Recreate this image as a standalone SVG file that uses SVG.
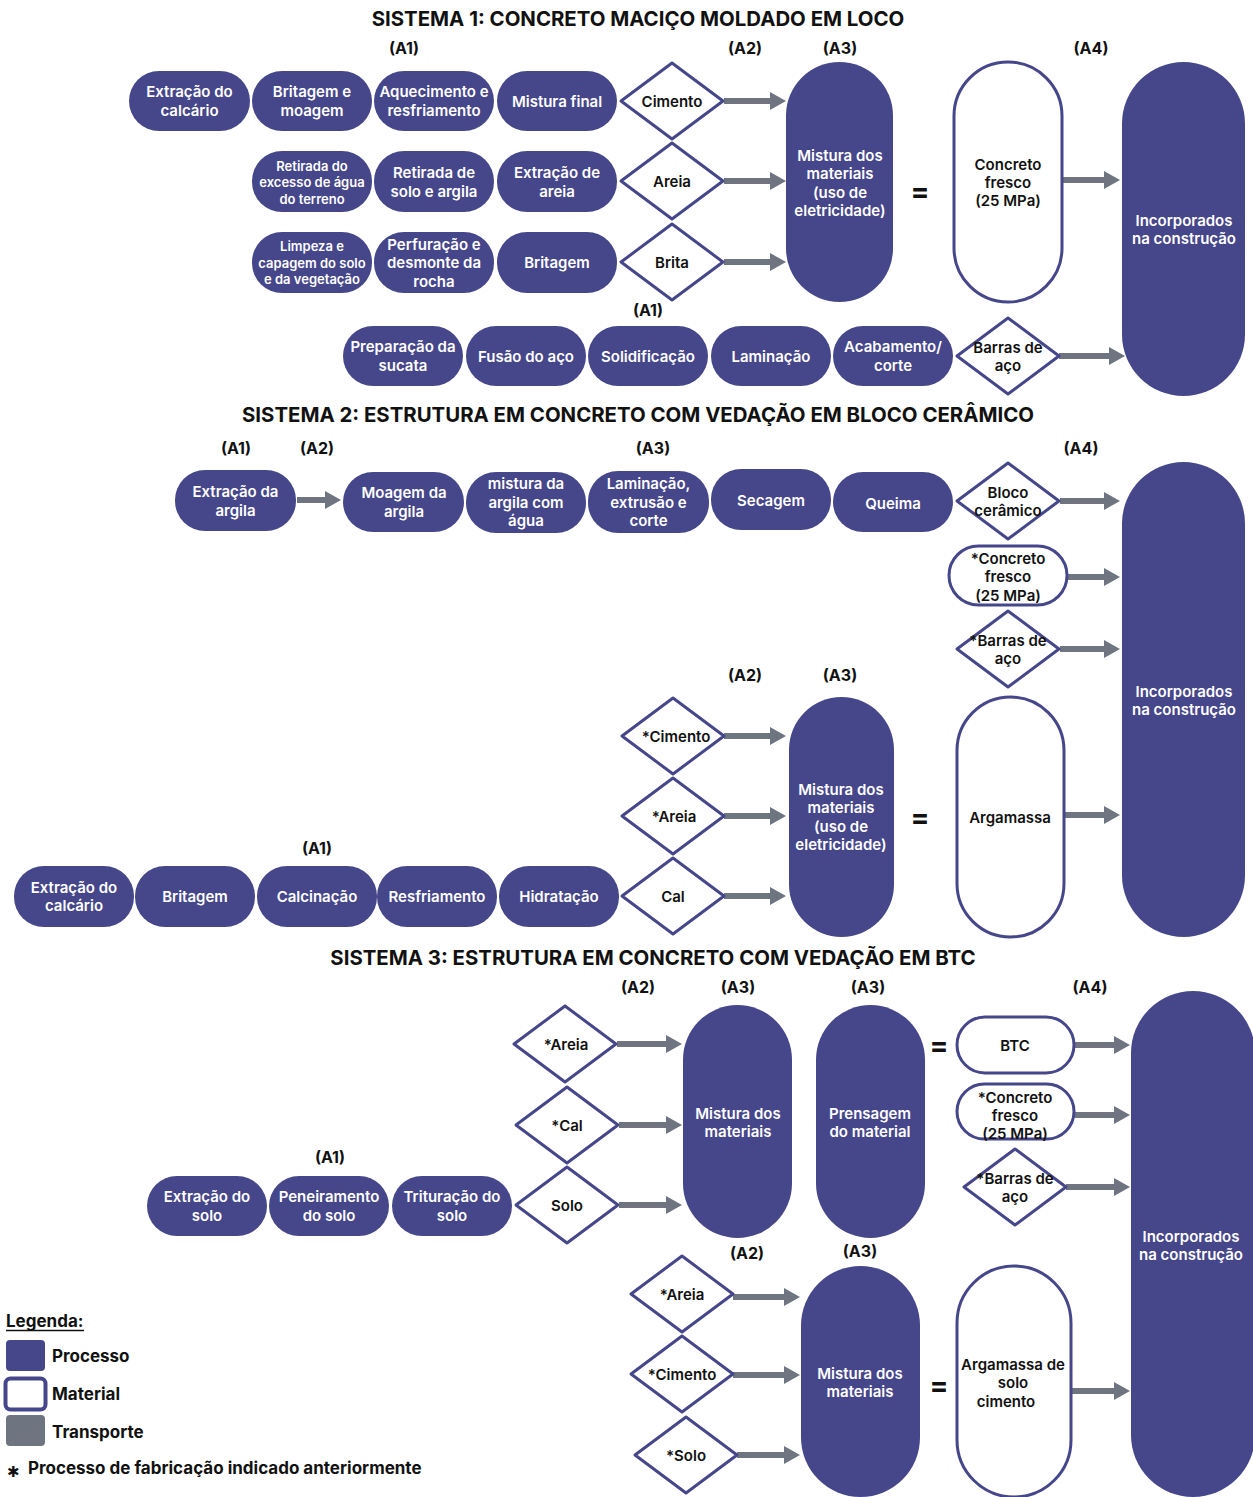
<svg xmlns="http://www.w3.org/2000/svg" xmlns:xlink="http://www.w3.org/1999/xlink" width="1253" height="1497" viewBox="0 0 1253 1497">
<defs>
<style>
.p{fill:#46468A}
.m{fill:#fff;stroke:#46468A;stroke-width:3}
.d{fill:#fff;stroke:#46468A;stroke-width:3;stroke-linejoin:round}
text{font-family:Inter,"Noto Sans","Liberation Sans",sans-serif;font-weight:600;text-anchor:middle}
.t{font-size:15px;fill:#fff}
.s{font-size:13px}
.k{font-size:15px;fill:#111}
.lb{font-size:16px;font-weight:700;fill:#111}
.ttl{font-size:20.4px;font-weight:700;fill:#111}
.eq{font-size:28px;font-weight:700;fill:#111}
.a{stroke:#6E7480;stroke-width:6;fill:none;marker-end:url(#ah)}
.lg{font-size:17px;font-weight:700;fill:#111;text-anchor:start}
</style>
<marker id="ah" markerUnits="userSpaceOnUse" markerWidth="16" markerHeight="18" refX="2" refY="9" orient="auto">
<path d="M0,0 L16,9 L0,18 Z" fill="#6E7480"/>
</marker>
<path id="dia" d="M-51,0 L0,-38 L51,0 L0,38 Z"/>
</defs>
<rect width="1253" height="1497" fill="#fff"/>

<!-- ===== SISTEMA 1 ===== -->
<text class="ttl" x="638" y="26">SISTEMA 1: CONCRETO MACIÇO MOLDADO EM LOCO</text>
<g id="labels1">
<text class="lb" x="404" y="54">(A1)</text>
<text class="lb" x="745" y="54">(A2)</text>
<text class="lb" x="840" y="54">(A3)</text>
<text class="lb" x="1091" y="54">(A4)</text>
<text class="lb" x="648" y="316">(A1)</text>
</g>

<g id="s1-connectors">
<line class="a" x1="724" y1="101" x2="772" y2="101"/>
<line class="a" x1="724" y1="181" x2="772" y2="181"/>
<line class="a" x1="724" y1="262" x2="772" y2="262"/>
<line class="a" x1="1063" y1="180" x2="1106" y2="180"/>
<line class="a" x1="1059" y1="356" x2="1111" y2="356"/>
</g>

<g id="s1-extracao-calcario"><rect class="p" x="129" y="71" width="121" height="60" rx="30"/><text class="t" x="189.5" y="97">Extração do</text><text class="t" x="189.5" y="116">calcário</text></g>
<g id="s1-britagem-moagem"><rect class="p" x="252" y="71" width="120" height="60" rx="30"/><text class="t" x="312" y="97">Britagem e</text><text class="t" x="312" y="116">moagem</text></g>
<g id="s1-aquecimento"><rect class="p" x="374" y="71" width="120" height="60" rx="30"/><text class="t" x="434" y="97">Aquecimento e</text><text class="t" x="434" y="116">resfriamento</text></g>
<g id="s1-mistura-final"><rect class="p" x="497" y="71" width="120" height="60" rx="30"/><text class="t" x="557" y="106.5">Mistura final</text></g>
<g id="s1-cimento"><use href="#dia" class="d" x="672" y="101"/><text class="k" x="672" y="106.5">Cimento</text></g>

<g id="s1-retirada-agua"><rect class="p" x="252" y="151" width="120" height="61" rx="30"/><text class="t s" x="312" y="170.5">Retirada do</text><text class="t s" x="312" y="187">excesso de água</text><text class="t s" x="312" y="203.5">do terreno</text></g>
<g id="s1-retirada-solo"><rect class="p" x="374" y="151" width="120" height="61" rx="30"/><text class="t" x="434" y="177.5">Retirada de</text><text class="t" x="434" y="196.5">solo e argila</text></g>
<g id="s1-extracao-areia"><rect class="p" x="497" y="151" width="120" height="61" rx="30"/><text class="t" x="557" y="177.5">Extração de</text><text class="t" x="557" y="196.5">areia</text></g>
<g id="s1-areia"><use href="#dia" class="d" x="672" y="181"/><text class="k" x="672" y="186.5">Areia</text></g>

<g id="s1-limpeza"><rect class="p" x="252" y="232" width="120" height="61" rx="30"/><text class="t s" x="312" y="251">Limpeza e</text><text class="t s" x="312" y="267.5">capagem do solo</text><text class="t s" x="312" y="284">e da vegetação</text></g>
<g id="s1-perfuracao"><rect class="p" x="374" y="232" width="120" height="61" rx="30"/><text class="t" x="434" y="249.5">Perfuração e</text><text class="t" x="434" y="268">desmonte da</text><text class="t" x="434" y="286.5">rocha</text></g>
<g id="s1-britagem"><rect class="p" x="497" y="232" width="120" height="61" rx="30"/><text class="t" x="557" y="267.5">Britagem</text></g>
<g id="s1-brita"><use href="#dia" class="d" x="672" y="262"/><text class="k" x="672" y="267.5">Brita</text></g>

<g id="s1-mistura-materiais"><rect class="p" x="786" y="62" width="107" height="240" rx="53.5"/><text class="t" x="840" y="160.5">Mistura dos</text><text class="t" x="840" y="179">materiais</text><text class="t" x="840" y="197.5">(uso de</text><text class="t" x="840" y="216">eletricidade)</text></g>
<text class="eq" x="920" y="201">=</text>
<g id="s1-concreto-fresco"><rect class="m" x="954" y="62" width="108" height="240" rx="54"/><text class="k" x="1008" y="169.5">Concreto</text><text class="k" x="1008" y="188">fresco</text><text class="k" x="1008" y="206">(25 MPa)</text></g>
<g id="s1-incorporados"><rect class="p" x="1122" y="62" width="123" height="334" rx="61.5"/><text class="t" x="1184" y="225.5">Incorporados</text><text class="t" x="1184" y="244">na construção</text></g>

<g id="s1-preparacao"><rect class="p" x="343" y="326" width="120" height="60" rx="30"/><text class="t" x="403" y="352">Preparação da</text><text class="t" x="403" y="371">sucata</text></g>
<g id="s1-fusao"><rect class="p" x="466" y="326" width="120" height="60" rx="30"/><text class="t" x="526" y="361.5">Fusão do aço</text></g>
<g id="s1-solidificacao"><rect class="p" x="588" y="326" width="120" height="60" rx="30"/><text class="t" x="648" y="361.5">Solidificação</text></g>
<g id="s1-laminacao"><rect class="p" x="711" y="326" width="120" height="60" rx="30"/><text class="t" x="771" y="361.5">Laminação</text></g>
<g id="s1-acabamento"><rect class="p" x="833" y="326" width="120" height="60" rx="30"/><text class="t" x="893" y="352">Acabamento/</text><text class="t" x="893" y="371">corte</text></g>
<g id="s1-barras"><use href="#dia" class="d" x="1008" y="356"/><text class="k" x="1008" y="352.5">Barras de</text><text class="k" x="1008" y="371">aço</text></g>

<!-- ===== SISTEMA 2 ===== -->
<text class="ttl" x="638" y="422">SISTEMA 2: ESTRUTURA EM CONCRETO COM VEDAÇÃO EM BLOCO CERÂMICO</text>
<g id="labels2">
<text class="lb" x="236" y="454">(A1)</text>
<text class="lb" x="317" y="454">(A2)</text>
<text class="lb" x="653" y="454">(A3)</text>
<text class="lb" x="1081" y="454">(A4)</text>
<text class="lb" x="745" y="681">(A2)</text>
<text class="lb" x="840" y="681">(A3)</text>
<text class="lb" x="317" y="854">(A1)</text>
</g>

<g id="s2-connectors">
<line class="a" x1="297" y1="500" x2="327" y2="500"/>
<line class="a" x1="1060" y1="501" x2="1106" y2="501"/>
<line class="a" x1="1068" y1="577" x2="1106" y2="577"/>
<line class="a" x1="1060" y1="649" x2="1106" y2="649"/>
<line class="a" x1="724" y1="736" x2="772" y2="736"/>
<line class="a" x1="724" y1="816" x2="772" y2="816"/>
<line class="a" x1="724" y1="896" x2="772" y2="896"/>
<line class="a" x1="1065" y1="815" x2="1106" y2="815"/>
</g>

<g id="s2-extracao-argila"><rect class="p" x="175" y="470" width="121" height="61" rx="30"/><text class="t" x="235.5" y="497">Extração da</text><text class="t" x="235.5" y="516">argila</text></g>
<g id="s2-moagem"><rect class="p" x="343" y="472" width="121" height="60" rx="30"/><text class="t" x="404" y="498">Moagem da</text><text class="t" x="404" y="517">argila</text></g>
<g id="s2-mistura-argila"><rect class="p" x="466" y="472" width="120" height="61" rx="30"/><text class="t" x="526" y="489">mistura da</text><text class="t" x="526" y="507.5">argila com</text><text class="t" x="526" y="526">água</text></g>
<g id="s2-laminacao"><rect class="p" x="588" y="471" width="121" height="62" rx="30"/><text class="t" x="648.5" y="489">Laminação,</text><text class="t" x="648.5" y="507.5">extrusão e</text><text class="t" x="648.5" y="526">corte</text></g>
<g id="s2-secagem"><rect class="p" x="711" y="469" width="120" height="61" rx="30"/><text class="t" x="771" y="505.5">Secagem</text></g>
<g id="s2-queima"><rect class="p" x="833" y="472" width="120" height="60" rx="30"/><text class="t" x="893" y="508.5">Queima</text></g>
<g id="s2-bloco"><use href="#dia" class="d" x="1008" y="501"/><text class="k" x="1008" y="497.5">Bloco</text><text class="k" x="1008" y="516">cerâmico</text></g>
<g id="s2-concreto"><rect class="m" x="949" y="546" width="118" height="59" rx="29.5"/><text class="k" x="1008" y="563.5">*Concreto</text><text class="k" x="1008" y="582">fresco</text><text class="k" x="1008" y="600.5">(25 MPa)</text></g>
<g id="s2-barras"><use href="#dia" class="d" x="1008" y="649"/><text class="k" x="1008" y="645.5">*Barras de</text><text class="k" x="1008" y="664">aço</text></g>

<g id="s2-cimento"><use href="#dia" class="d" x="673" y="736"/><text class="k" x="676" y="741.5">*Cimento</text></g>
<g id="s2-areia"><use href="#dia" class="d" x="673" y="816"/><text class="k" x="674" y="821.5">*Areia</text></g>
<g id="s2-cal"><use href="#dia" class="d" x="673" y="896"/><text class="k" x="673" y="901.5">Cal</text></g>
<g id="s2-mistura"><rect class="p" x="789" y="697" width="105" height="240" rx="52.5"/><text class="t" x="841" y="794.5">Mistura dos</text><text class="t" x="841" y="813">materiais</text><text class="t" x="841" y="831.5">(uso de</text><text class="t" x="841" y="850">eletricidade)</text></g>
<text class="eq" x="920" y="827">=</text>
<g id="s2-argamassa"><rect class="m" x="957" y="697" width="107" height="240" rx="53.5"/><text class="k" x="1010" y="822.5">Argamassa</text></g>
<g id="s2-incorporados"><rect class="p" x="1122" y="462" width="123" height="475" rx="61.5"/><text class="t" x="1184" y="696.5">Incorporados</text><text class="t" x="1184" y="715">na construção</text></g>

<g id="s2-extracao-calcario"><rect class="p" x="14" y="866" width="120" height="61" rx="30"/><text class="t" x="74" y="892.5">Extração do</text><text class="t" x="74" y="911">calcário</text></g>
<g id="s2-britagem"><rect class="p" x="135" y="866" width="120" height="61" rx="30"/><text class="t" x="195" y="902">Britagem</text></g>
<g id="s2-calcinacao"><rect class="p" x="257" y="866" width="120" height="61" rx="30"/><text class="t" x="317" y="902">Calcinação</text></g>
<g id="s2-resfriamento"><rect class="p" x="377" y="866" width="120" height="61" rx="30"/><text class="t" x="437" y="902">Resfriamento</text></g>
<g id="s2-hidratacao"><rect class="p" x="499" y="866" width="120" height="61" rx="30"/><text class="t" x="559" y="902">Hidratação</text></g>

<!-- ===== SISTEMA 3 ===== -->
<text class="ttl" x="653" y="965">SISTEMA 3: ESTRUTURA EM CONCRETO COM VEDAÇÃO EM BTC</text>
<g id="labels3">
<text class="lb" x="638" y="993">(A2)</text>
<text class="lb" x="738" y="993">(A3)</text>
<text class="lb" x="868" y="993">(A3)</text>
<text class="lb" x="1090" y="993">(A4)</text>
<text class="lb" x="330" y="1163">(A1)</text>
<text class="lb" x="747" y="1259">(A2)</text>
<text class="lb" x="860" y="1257">(A3)</text>
</g>

<g id="s3-connectors">
<line class="a" x1="617" y1="1044" x2="668" y2="1044"/>
<line class="a" x1="619" y1="1125" x2="668" y2="1125"/>
<line class="a" x1="619" y1="1205" x2="668" y2="1205"/>
<line class="a" x1="1075" y1="1045" x2="1116" y2="1045"/>
<line class="a" x1="1075" y1="1115" x2="1116" y2="1115"/>
<line class="a" x1="1066" y1="1187" x2="1116" y2="1187"/>
<line class="a" x1="733" y1="1297" x2="786" y2="1297"/>
<line class="a" x1="733" y1="1375" x2="786" y2="1375"/>
<line class="a" x1="737" y1="1455" x2="786" y2="1455"/>
<line class="a" x1="1072" y1="1391" x2="1116" y2="1391"/>
</g>

<g id="s3-areia"><use href="#dia" class="d" x="565" y="1044"/><text class="k" x="566" y="1049.5">*Areia</text></g>
<g id="s3-cal"><use href="#dia" class="d" x="567" y="1125"/><text class="k" x="567" y="1130.5">*Cal</text></g>
<g id="s3-solo"><use href="#dia" class="d" x="567" y="1205"/><text class="k" x="567" y="1210.5">Solo</text></g>
<g id="s3-mistura"><rect class="p" x="683" y="1005" width="109" height="233" rx="54.5"/><text class="t" x="738" y="1118.5">Mistura dos</text><text class="t" x="738" y="1137">materiais</text></g>
<g id="s3-prensagem"><rect class="p" x="816" y="1005" width="109" height="233" rx="54.5"/><text class="t" x="870" y="1118.5">Prensagem</text><text class="t" x="870" y="1137">do material</text></g>
<text class="eq" x="939" y="1055">=</text>
<g id="s3-btc"><rect class="m" x="957" y="1017" width="117" height="56" rx="28"/><text class="k" x="1015" y="1050.5">BTC</text></g>
<g id="s3-concreto"><rect class="m" x="957" y="1084" width="117" height="55" rx="27.5"/><text class="k" x="1015" y="1102.5">*Concreto</text><text class="k" x="1015" y="1120.5">fresco</text><text class="k" x="1015" y="1138.5">(25 MPa)</text></g>
<g id="s3-barras"><use href="#dia" class="d" x="1015" y="1187"/><text class="k" x="1015" y="1183.5">*Barras de</text><text class="k" x="1015" y="1202">aço</text></g>
<g id="s3-incorporados"><rect class="p" x="1131" y="991" width="124" height="506" rx="62"/><text class="t" x="1191" y="1241.5">Incorporados</text><text class="t" x="1191" y="1260">na construção</text></g>

<g id="s3-extracao-solo"><rect class="p" x="147" y="1176" width="120" height="60" rx="30"/><text class="t" x="207" y="1202">Extração do</text><text class="t" x="207" y="1221">solo</text></g>
<g id="s3-peneiramento"><rect class="p" x="269" y="1176" width="120" height="60" rx="30"/><text class="t" x="329" y="1202">Peneiramento</text><text class="t" x="329" y="1221">do solo</text></g>
<g id="s3-trituracao"><rect class="p" x="392" y="1176" width="120" height="60" rx="30"/><text class="t" x="452" y="1202">Trituração do</text><text class="t" x="452" y="1221">solo</text></g>

<g id="s3-areia2"><use href="#dia" class="d" x="682" y="1294"/><text class="k" x="682" y="1299.5">*Areia</text></g>
<g id="s3-cimento2"><use href="#dia" class="d" x="682" y="1374"/><text class="k" x="682" y="1379.5">*Cimento</text></g>
<g id="s3-solo2"><use href="#dia" class="d" x="686" y="1455"/><text class="k" x="686" y="1460.5">*Solo</text></g>
<g id="s3-mistura2"><rect class="p" x="801" y="1266" width="119" height="231" rx="59.5"/><text class="t" x="860" y="1378.5">Mistura dos</text><text class="t" x="860" y="1397">materiais</text></g>
<text class="eq" x="939" y="1395">=</text>
<g id="s3-argamassa"><rect class="m" x="957" y="1266" width="114" height="231" rx="57"/><text class="k" x="1013" y="1369.5">Argamassa de</text><text class="k" x="1013" y="1388">solo</text><text class="k" x="1006" y="1406.5">cimento</text></g>

<!-- ===== LEGENDA ===== -->
<g id="legenda">
<text class="lg" x="6" y="1327">Legenda:</text>
<line x1="6" y1="1330.5" x2="84" y2="1330.5" stroke="#111" stroke-width="1.5"/>
<rect class="p" x="6" y="1340" width="39" height="31" rx="4"/>
<text class="lg" x="52" y="1362">Processo</text>
<rect x="5.5" y="1378.5" width="40" height="31" rx="5" fill="#fff" stroke="#46468A" stroke-width="4"/>
<text class="lg" x="52" y="1400">Material</text>
<rect x="6" y="1415" width="39" height="31" rx="4" fill="#6E7480"/>
<text class="lg" x="52" y="1438">Transporte</text>
<text class="lg" x="7" y="1477" style="font-size:15px;font-family:'DejaVu Sans',sans-serif">✱</text>
<text class="lg" x="28" y="1474">Processo de fabricação indicado anteriormente</text>
</g>
</svg>
